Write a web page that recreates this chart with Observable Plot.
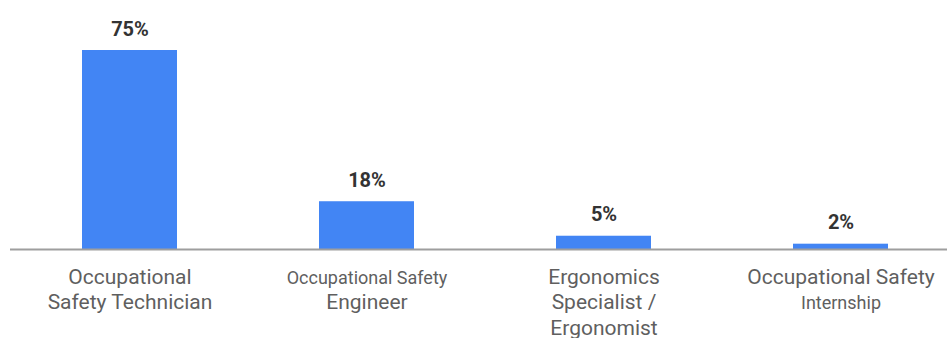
<!DOCTYPE html>
<html>
<head>
<meta charset="utf-8">
<script src="https://cdn.jsdelivr.net/npm/d3@7"></script>
<script src="https://cdn.jsdelivr.net/npm/@observablehq/plot@0.6"></script>
<style>
  html, body { margin: 0; padding: 0; background: #fff; }
  #chart svg { display: block; }
</style>
</head>
<body>
<div id="chart"></div>
<script>
const categories = [
  "Occupational Safety Technician",
  "Occupational Safety Engineer",
  "Ergonomics Specialist / Ergonomist",
  "Occupational Safety Internship"
];
const values = [75, 18, 5, 2];
const valueLabels = ["75%", "18%", "5%", "2%"];
const labelLines = [
  ["Occupational", "Safety Technician"],
  ["Occupational Safety", "Engineer"],
  ["Ergonomics", "Specialist /", "Ergonomist"],
  ["Occupational Safety", "Internship"]
];

const data = categories.map((c, i) => ({category: c, value: values[i], label: valueLabels[i]}));
const lines = categories.flatMap((c, ci) => labelLines[ci].map((t, li) => ({category: c, ci, li, text: t})));

// smaller lines in the reference image
const smallLine = d => (d.ci === 1 && d.li === 0) || (d.ci === 3 && d.li === 1);
const lineOffsets = [34, 59, 85];

const chart = Plot.plot({
  width: 947,
  height: 338,
  marginTop: 50,
  marginBottom: 89,
  marginLeft: 10,
  marginRight: 0,
  style: {fontFamily: "Roboto, sans-serif", background: "#fff"},
  x: {type: "band", domain: categories, range: [11, 959], paddingInner: 0.6, paddingOuter: 0.3, axis: null},
  y: {domain: [0, 75], axis: null},
  marks: [
    Plot.barY(data, {x: "category", y: "value", fill: "#4285f4"}),
    Plot.ruleY([0], {stroke: "#9e9e9e", strokeWidth: 2}),
    Plot.text(data, {x: "category", y: "value", text: "label", lineAnchor: "bottom", dy: -15,
      fontSize: 20, fontWeight: "bold", fill: "#333"}),
    ...[0, 1, 2].map(li => Plot.text(lines.filter(d => d.li === li), {
      x: "category", y: () => 0, text: "text", lineAnchor: "bottom", dy: lineOffsets[li],
      fontSize: d => smallLine(d) ? 18 : 21, fill: "#5f5f5f"
    }))
  ]
});
document.getElementById("chart").appendChild(chart);
</script>
</body>
</html>
